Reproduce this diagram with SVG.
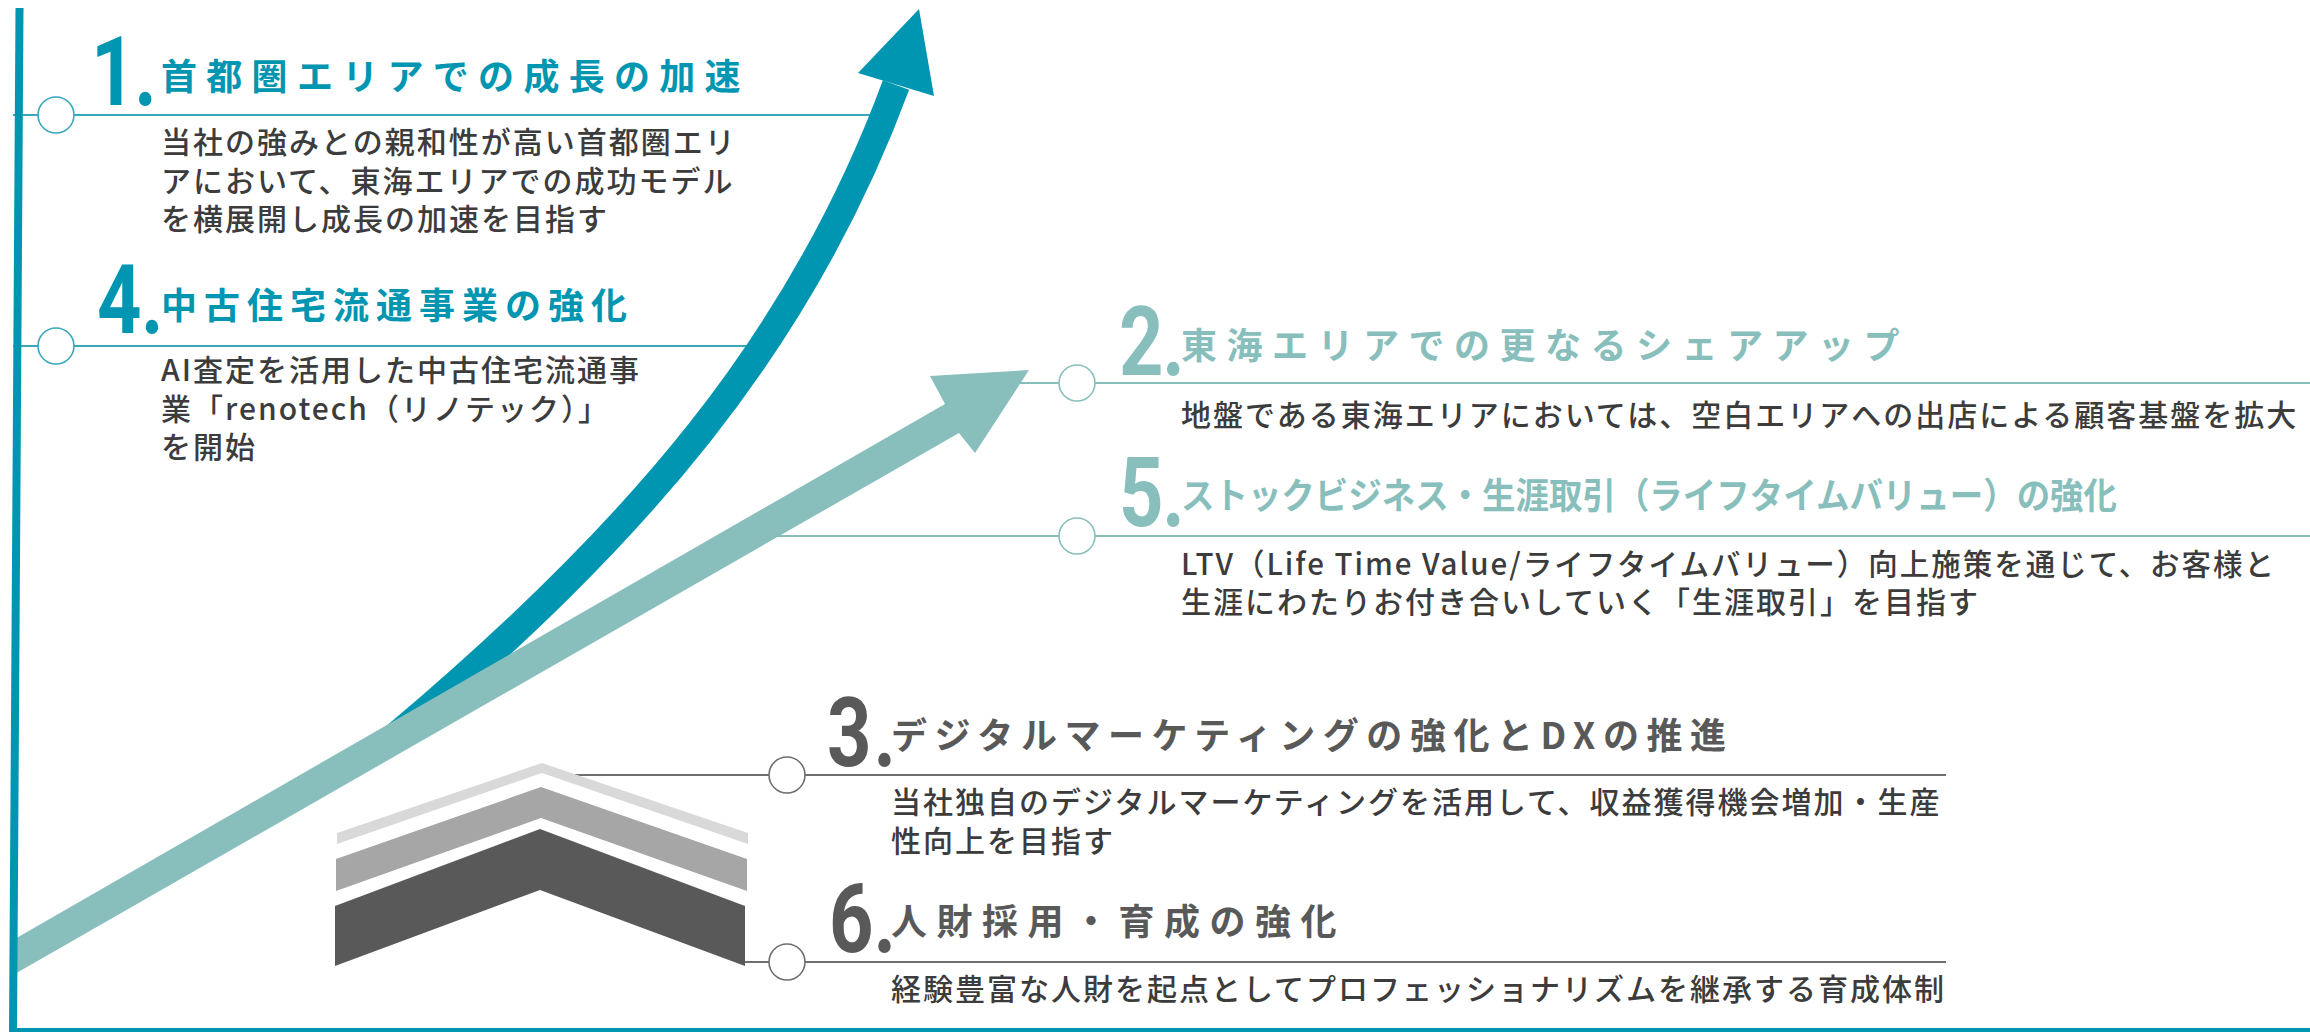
<svg xmlns="http://www.w3.org/2000/svg" width="2310" height="1032" viewBox="0 0 2310 1032">
<defs>
<style>
.title{font-family:"Noto Sans CJK JP","Noto Sans",sans-serif;font-weight:700;font-size:36px}
.body{font-family:"Noto Sans CJK JP","Noto Sans",sans-serif;font-weight:500;font-size:30px;letter-spacing:2px;fill:#3c3c3c}
.num{font-family:Roboto,"Liberation Sans",sans-serif;font-weight:700;font-size:97px}
.tealD{fill:#0096b1}
.tealL{fill:#88bfbc}
.gray{fill:#595959}
.lnD{stroke:#3aa7bd;stroke-width:2;fill:none}
.lnL{stroke:#88bfbc;stroke-width:2;fill:none}
.lnG{stroke:#6e6e6e;stroke-width:2;fill:none}
.cD{fill:#fff;stroke:#3aa7bd;stroke-width:1.6}
.cL{fill:#fff;stroke:#88bfbc;stroke-width:1.6}
.cG{fill:#fff;stroke:#6e6e6e;stroke-width:1.6}
</style>
</defs>
<rect width="2310" height="1032" fill="#fff"/>

<g id="connectors">
<line class="lnD" x1="13" y1="115" x2="880" y2="115"/>
<line class="lnD" x1="13" y1="346" x2="750" y2="346"/>
<line class="lnL" x1="980" y1="383" x2="2310" y2="383"/>
<line class="lnL" x1="760" y1="536" x2="2310" y2="536"/>
<line class="lnG" x1="560" y1="775" x2="1946" y2="775"/>
<line class="lnG" x1="740" y1="962" x2="1946" y2="962"/>
</g>

<g id="growth-arrows">
<path d="M340,769 L395,737 C635,535 800,345 896,85" fill="none" stroke="#0096b1" stroke-width="28" stroke-linejoin="round"/>
<polygon points="858,73 919,9 934,96" fill="#0096b1"/>
<polygon points="13,940 945,404 930,376 1029,370 975,453 959,433 13,975" fill="#88bfbc"/>
</g>

<g id="chevrons">
<polygon points="337,833 542,763 748,833 748,844 542,773 337,844" fill="#d9d9d9"/>
<polygon points="336,859 541,787 747,859 747,891 541,818 336,891" fill="#a6a6a6"/>
<polygon points="335,906 540,829 745,906 745,966 540,890 335,966" fill="#595959"/>
</g>

<g id="axis">
<line x1="19.5" y1="8" x2="13" y2="1032" stroke="#0096b1" stroke-width="8"/>
<line x1="9" y1="1030" x2="2310" y2="1030" stroke="#0096b1" stroke-width="4"/>
</g>

<g id="node-1">
<circle class="cD" cx="56" cy="115" r="18"/>
<text class="num tealD" transform="translate(91,105) scale(0.8,1)"><tspan x="0">1</tspan><tspan x="54">.</tspan></text>
<text class="title tealD" x="161" y="89.5" letter-spacing="9.3">首都圏エリアでの成長の加速</text>
<text class="body" x="161" y="153">当社の強みとの親和性が高い首都圏エリ</text>
<text class="body" x="161" y="191.5">アにおいて、東海エリアでの成功モデル</text>
<text class="body" x="161" y="230">を横展開し成長の加速を目指す</text>
</g>

<g id="node-4">
<circle class="cD" cx="56" cy="346" r="18"/>
<text class="num tealD" transform="translate(97,333) scale(0.8,1)"><tspan x="0">4</tspan><tspan x="55">.</tspan></text>
<text class="title tealD" x="161" y="319" letter-spacing="7">中古住宅流通事業の強化</text>
<text class="body" x="161" y="381">AI査定を活用した中古住宅流通事</text>
<text class="body" x="161" y="420">業「renotech（リノテック）」</text>
<text class="body" x="161" y="458">を開始</text>
</g>

<g id="node-2">
<circle class="cL" cx="1077" cy="383" r="18"/>
<text class="num tealL" transform="translate(1119,375) scale(0.8,1)"><tspan x="0">2</tspan><tspan x="54">.</tspan></text>
<text class="title tealL" x="1181" y="359" letter-spacing="9.5">東海エリアでの更なるシェアアップ</text>
<text class="body" x="1181" y="426">地盤である東海エリアにおいては、空白エリアへの出店による顧客基盤を拡大</text>
</g>

<g id="node-5">
<circle class="cL" cx="1077" cy="536" r="18"/>
<text class="num tealL" transform="translate(1119,526) scale(0.8,1)"><tspan x="0">5</tspan><tspan x="54">.</tspan></text>
<text class="title tealL" x="1181" y="509" font-size="35" textLength="936" lengthAdjust="spacingAndGlyphs">ストックビジネス・生涯取引（ライフタイムバリュー）の強化</text>
<text class="body" x="1181" y="575" textLength="1095" lengthAdjust="spacingAndGlyphs">LTV（Life Time Value/ライフタイムバリュー）向上施策を通じて、お客様と</text>
<text class="body" x="1181" y="613">生涯にわたりお付き合いしていく「生涯取引」を目指す</text>
</g>

<g id="node-3">
<circle class="cG" cx="787" cy="775" r="18"/>
<text class="num gray" transform="translate(827,766) scale(0.8,1)"><tspan x="0">3</tspan><tspan x="58">.</tspan></text>
<text class="title gray" x="891" y="749" textLength="835" lengthAdjust="spacing">デジタルマーケティングの強化とDXの推進</text>
<text class="body" x="891" y="813">当社独自のデジタルマーケティングを活用して、収益獲得機会増加・生産</text>
<text class="body" x="891" y="852">性向上を目指す</text>
</g>

<g id="node-6">
<circle class="cG" cx="787" cy="962" r="18"/>
<text class="num gray" transform="translate(829,952) scale(0.8,1)"><tspan x="0">6</tspan><tspan x="55.5">.</tspan></text>
<text class="title gray" x="891" y="935" letter-spacing="9.5">人財採用・育成の強化</text>
<text class="body" x="891" y="1000">経験豊富な人財を起点としてプロフェッショナリズムを継承する育成体制</text>
</g>
</svg>
